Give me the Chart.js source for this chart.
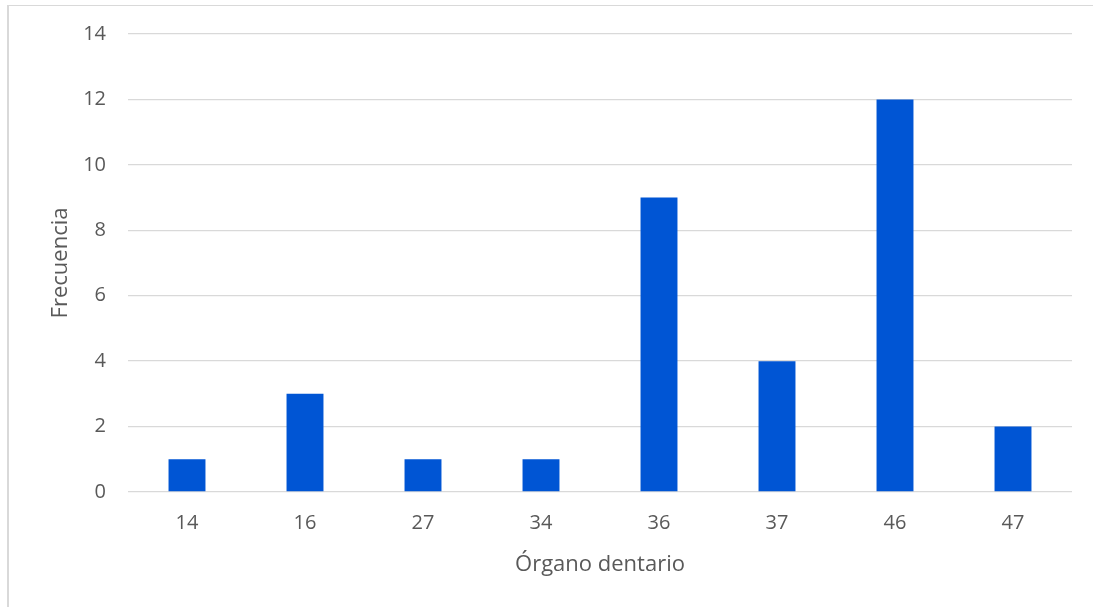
<!DOCTYPE html>
<html lang="es">
<head>
<meta charset="utf-8">
<title>Frecuencia por órgano dentario</title>
<script src="https://cdn.jsdelivr.net/npm/chart.js@4/dist/chart.umd.min.js"></script>
<style>
  html, body { margin: 0; padding: 0; background: #ffffff; }
  #wrap { position: relative; width: 1093px; height: 607px; overflow: hidden; }
  #frame {
    position: absolute; left: 7px; top: 5px; width: 1200px; height: 700px;
    border-top: 1px solid #d9d9d9; border-left: 2px solid #d9d9d9;
    box-sizing: border-box; pointer-events: none;
  }
  canvas { position: absolute; left: 0; top: 0; }
</style>
</head>
<body>
<div id="wrap">
  <div id="frame"></div>
  <canvas id="chart" width="1093" height="607"></canvas>
</div>
<script>
// Teeth (FDI numbering) and how often each one appears
const categories = ['14', '16', '27', '34', '36', '37', '46', '47'];
const frequencies = [1, 3, 1, 1, 9, 4, 12, 2];

// Value axis range
const yMin = 0;
const yMax = 14;
const yStep = 2;

const xTitle = 'Órgano dentario';
const yTitle = 'Frecuencia';

const textColor = '#595959';
const gridColor = '#d9d9d9';
const barColor = '#0055d4';
const fontFamily = '"Open Sans", "Noto Sans", sans-serif';

// Plot area edges inside the 1093x607 canvas
const plotLeft = 128;
const plotRight = 1072;
const plotTop = 34;
const plotBottom = 492;
const canvasW = 1093;
const canvasH = 607;

new Chart(document.getElementById('chart'), {
  type: 'bar',
  data: {
    labels: categories,
    datasets: [{
      label: yTitle,
      data: frequencies,
      backgroundColor: barColor,
      borderWidth: 0,
      barPercentage: 1,
      categoryPercentage: 0.313
    }]
  },
  options: {
    responsive: false,
    animation: false,
    devicePixelRatio: 1,
    layout: {
      padding: { left: 0, top: plotTop, right: canvasW - plotRight, bottom: 0 }
    },
    plugins: {
      legend: { display: false },
      tooltip: { enabled: false }
    },
    scales: {
      x: {
        grid: { display: false, drawTicks: false },
        border: { display: false },
        ticks: {
          color: textColor,
          font: { family: fontFamily, size: 20 },
          padding: 19,
          maxRotation: 0
        },
        title: {
          display: true,
          text: xTitle,
          color: textColor,
          font: { family: fontFamily, size: 22 },
          padding: 29
        },
        afterFit(scale) { scale.height = canvasH - plotBottom; }
      },
      y: {
        min: yMin,
        max: yMax,
        grid: { color: gridColor, lineWidth: 1.3, drawTicks: false },
        border: { display: false },
        ticks: {
          stepSize: yStep,
          color: textColor,
          font: { family: fontFamily, size: 20 },
          padding: 22
        },
        title: {
          display: true,
          text: yTitle,
          color: textColor,
          font: { family: fontFamily, size: 22 },
          padding: 48
        },
        afterFit(scale) { scale.width = plotLeft; }
      }
    }
  }
});
</script>
</body>
</html>
